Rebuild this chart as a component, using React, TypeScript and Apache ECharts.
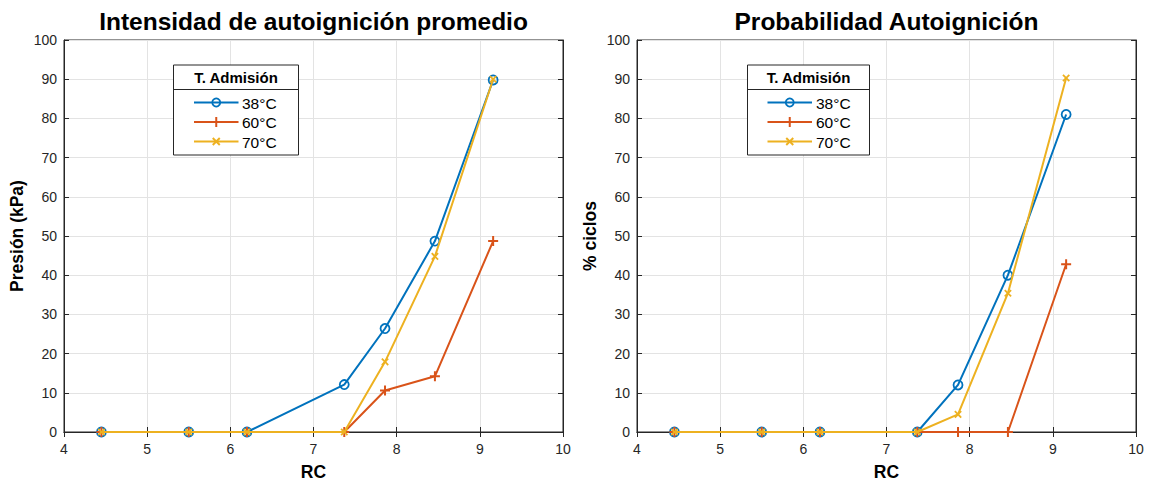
import React, { useEffect, useRef } from "react";
import * as echarts from "echarts";

// Compression ratio (RC) sample points
const rc = [4.45, 5.5, 6.2, 7.37, 7.86, 8.46, 9.16];

// Mean autoignition intensity, kPa
const presion38 = [0, 0, 0, 12.1, 26.4, 48.7, 89.8];
const presion60 = [0, 0, 0, 0, 10.6, 14.2, 48.7];
const presion70 = [0, 0, 0, 0, 17.9, 44.8, 90.0];

// Autoignition probability, % of cycles
const ciclos38 = [0, 0, 0, 0, 12.0, 40.0, 81.0];
const ciclos60 = [0, 0, 0, 0, 0, 0, 42.8];
const ciclos70 = [0, 0, 0, 0, 4.5, 35.4, 90.3];

const seriesNames = ["38°C", "60°C", "70°C"];
const legendTitle = "T. Admisión";
const titles = ["Intensidad de autoignición promedio", "Probabilidad Autoignición"];
const yNames = ["Presión (kPa)", "% ciclos"];
const xName = "RC";

const BLUE = "#0072BD";
const ORANGE = "#D95319";
const YELLOW = "#EDB120";
const AXIS = "#262626";
const FONT = "Liberation Sans, Arial, Helvetica, sans-serif";

const PLUS =
  "path://M4,0L6,0L6,4L10,4L10,6L6,6L6,10L4,10L4,6L0,6L0,4L4,4Z";

const GRID_TOP = 40;
const GRID_H = 392;
const GRID_W = 499;
const gridLefts = [64, 637];

function pairs(ys: number[]) {
  return rc.map((x, i) => [x, ys[i]]);
}

function legendGraphic(box: { l: number; r: number; lineL: number; lineR: number; textX: number }) {
  const top = 65;
  const bottom = 155;
  const sep = 89.5;
  const rows = [102.5, 122, 141.5];
  const mx = (box.lineL + box.lineR) / 2;
  const els: any[] = [
    {
      type: "rect",
      shape: { x: box.l, y: top, width: box.r - box.l, height: bottom - top },
      style: { fill: "#fff", stroke: AXIS, lineWidth: 1 },
      z: 100,
    },
    {
      type: "line",
      shape: { x1: box.l, y1: sep, x2: box.r, y2: sep },
      style: { stroke: AXIS, lineWidth: 1 },
      z: 101,
    },
    {
      type: "text",
      x: (box.l + box.r) / 2,
      y: (top + sep) / 2 + 0.5,
      style: {
        text: legendTitle,
        font: `bold 15px ${FONT}`,
        fill: "#000",
        align: "center",
        verticalAlign: "middle",
      },
      z: 101,
    },
  ];
  const colors = [BLUE, ORANGE, YELLOW];
  rows.forEach((y, i) => {
    els.push({
      type: "line",
      shape: { x1: box.lineL, y1: y, x2: box.lineR, y2: y },
      style: { stroke: colors[i], lineWidth: 2 },
      z: 101,
    });
    if (i === 0) {
      els.push({
        type: "circle",
        shape: { cx: mx, cy: y, r: 4 },
        style: { fill: "none", stroke: BLUE, lineWidth: 1.8 },
        z: 102,
      });
    } else if (i === 1) {
      els.push(
        { type: "line", shape: { x1: mx - 5, y1: y, x2: mx + 5, y2: y }, style: { stroke: ORANGE, lineWidth: 2 }, z: 102 },
        { type: "line", shape: { x1: mx, y1: y - 5, x2: mx, y2: y + 5 }, style: { stroke: ORANGE, lineWidth: 2 }, z: 102 }
      );
    } else {
      els.push(
        { type: "line", shape: { x1: mx - 3.5, y1: y - 3.5, x2: mx + 3.5, y2: y + 3.5 }, style: { stroke: YELLOW, lineWidth: 2 }, z: 102 },
        { type: "line", shape: { x1: mx - 3.5, y1: y + 3.5, x2: mx + 3.5, y2: y - 3.5 }, style: { stroke: YELLOW, lineWidth: 2 }, z: 102 }
      );
    }
    els.push({
      type: "text",
      x: box.textX,
      y: y + 0.5,
      style: {
        text: seriesNames[i],
        font: `15.5px ${FONT}`,
        fill: "#000",
        align: "left",
        verticalAlign: "middle",
      },
      z: 102,
    });
  });
  return els;
}

export default function App() {
  const ref = useRef<HTMLDivElement>(null);

  useEffect(() => {
    if (!ref.current) return;
    const chart = echarts.init(ref.current, undefined, { renderer: "svg" });

    const grids = gridLefts.map((left) => ({
      left,
      top: GRID_TOP,
      width: GRID_W,
      height: GRID_H,
      outerBoundsMode: "none",
      show: true,
      borderColor: AXIS,
      borderWidth: 1,
      backgroundColor: "#fff",
    }));

    const labelStyle = { color: AXIS, fontSize: 14, fontFamily: FONT };
    const nameStyle = { color: "#000", fontSize: 17.5, fontWeight: "bold" as const, fontFamily: FONT };

    const xAxes: any[] = [];
    const yAxes: any[] = [];
    [0, 1].forEach((g) => {
      // main bottom axis
      xAxes.push({
        type: "value",
        gridIndex: g,
        min: 4,
        max: 10,
        interval: 1,
        position: "bottom",
        name: xName,
        nameLocation: "middle",
        nameGap: 31,
        nameTextStyle: nameStyle,
        axisLine: { show: true, lineStyle: { color: AXIS, width: 1 } },
        axisTick: { show: true, inside: true, length: 5, lineStyle: { color: AXIS } },
        axisLabel: { ...labelStyle, margin: 10 },
        splitLine: { show: true, lineStyle: { color: "#e3e3e3", width: 1 } },
      });
      // top mirror axis for ticks
      xAxes.push({
        type: "value",
        gridIndex: g,
        min: 4,
        max: 10,
        interval: 1,
        position: "top",
        axisLine: { show: true, lineStyle: { color: AXIS, width: 1 } },
        axisTick: { show: true, inside: true, length: 5, lineStyle: { color: AXIS } },
        axisLabel: { show: false },
        splitLine: { show: false },
      });
      yAxes.push({
        type: "value",
        gridIndex: g,
        min: 0,
        max: 100,
        interval: 10,
        position: "left",
        name: yNames[g],
        nameLocation: "middle",
        nameGap: 38,
        nameRotate: 90,
        nameTextStyle: nameStyle,
        axisLine: { show: true, lineStyle: { color: AXIS, width: 1 } },
        axisTick: { show: true, inside: true, length: 5, lineStyle: { color: AXIS } },
        axisLabel: { ...labelStyle, margin: 7 },
        splitLine: { show: true, lineStyle: { color: "#e3e3e3", width: 1 } },
      });
      yAxes.push({
        type: "value",
        gridIndex: g,
        min: 0,
        max: 100,
        interval: 10,
        position: "right",
        axisLine: { show: true, lineStyle: { color: AXIS, width: 1 } },
        axisTick: { show: true, inside: true, length: 5, lineStyle: { color: AXIS } },
        axisLabel: { show: false },
        splitLine: { show: false },
      });
    });

    const makeSeries = (g: number, ys: number[][]) => {
      const xi = g * 2;
      const yi = g * 2;
      return [
        {
          type: "line",
          name: seriesNames[0],
          xAxisIndex: xi,
          yAxisIndex: yi,
          data: pairs(ys[0]),
          symbol: "circle",
          symbolSize: 9,
          lineStyle: { color: BLUE, width: 2 },
          itemStyle: { color: "rgba(0,0,0,0)", borderColor: BLUE, borderWidth: 1.8 },
          z: 2,
        },
        {
          type: "line",
          name: seriesNames[1],
          xAxisIndex: xi,
          yAxisIndex: yi,
          data: pairs(ys[1]),
          symbol: PLUS,
          symbolSize: 10,
          lineStyle: { color: ORANGE, width: 2 },
          itemStyle: { color: ORANGE },
          z: 3,
        },
        {
          type: "line",
          name: seriesNames[2],
          xAxisIndex: xi,
          yAxisIndex: yi,
          data: pairs(ys[2]),
          symbol: PLUS,
          symbolSize: 9,
          symbolRotate: 45,
          lineStyle: { color: YELLOW, width: 2 },
          itemStyle: { color: YELLOW },
          z: 4,
        },
      ];
    };

    const titleEls = titles.map((t, g) => ({
      type: "text",
      x: gridLefts[g] + GRID_W / 2,
      y: 21,
      style: {
        text: t,
        font: `bold 24.5px ${FONT}`,
        fill: "#000",
        align: "center",
        verticalAlign: "middle",
      },
    }));

    chart.setOption({
      animation: false,
      backgroundColor: "#fff",
      grid: grids,
      xAxis: xAxes,
      yAxis: yAxes,
      series: [
        ...makeSeries(0, [presion38, presion60, presion70]),
        ...makeSeries(1, [ciclos38, ciclos60, ciclos70]),
      ],
      graphic: [
        ...titleEls,
        ...legendGraphic({ l: 173.5, r: 298.5, lineL: 194, lineR: 238.5, textX: 242 }),
        ...legendGraphic({ l: 747.5, r: 869.5, lineL: 767.5, lineR: 812, textX: 816 }),
      ],
    });

    return () => chart.dispose();
  }, []);

  return (
    <div
      ref={ref}
      style={{ position: "fixed", left: 0, top: 0, width: 1156, height: 485, background: "#fff" }}
    />
  );
}
